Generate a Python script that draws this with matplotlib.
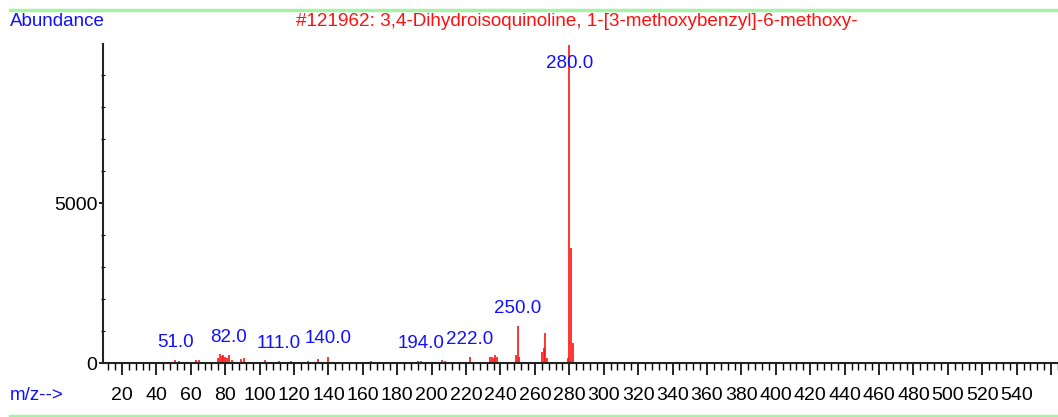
import matplotlib
matplotlib.use("Agg")
import matplotlib.pyplot as plt
from matplotlib.lines import Line2D
from matplotlib.ticker import MultipleLocator, FixedLocator

plt.rcParams['font.family'] = ['Liberation Sans', 'DejaVu Sans']

# Espectro de masas (m/z, abundancia)
mz = [41, 51, 53, 63, 65, 76, 77, 78, 79, 80, 81, 82, 84, 89, 91, 103,
      111, 118, 128, 134, 140, 152, 165, 177, 192, 194, 206, 208,
      222, 234, 235, 236, 237, 238, 249, 250, 251,
      264, 265, 266, 267, 279, 280, 281, 282]
abundancia = [40, 90, 50, 100, 80, 150, 280, 220, 250, 200, 150, 250, 100, 120, 170, 90,
              60, 70, 60, 120, 200, 40, 60, 40, 60, 70, 80, 50,
              190, 180, 200, 150, 250, 200, 250, 1150, 200,
              350, 470, 940, 150, 150, 9950, 3600, 620]

# Picos etiquetados
etiquetas = [51, 82, 111, 140, 194, 222, 250, 280]
altura_etiqueta = [90, 250, 60, 220, 60, 190, 1150, 9950]

titulo = "#121962: 3,4-Dihydroisoquinoline, 1-[3-methoxybenzyl]-6-methoxy-"
azul = "#1010ff"
rojo = "#ff1010"
verde = "#a6f2a6"

fig = plt.figure(figsize=(10.58, 4.17), dpi=100)
ax = fig.add_axes([103 / 1058, 54 / 417, 955 / 1058, 319 / 417])

ax.vlines(mz, 0, abundancia, color=rojo, linewidth=1.2)

for x, h in zip(etiquetas, altura_etiqueta):
    ax.text(x, min(h + 280, 9100), f"{x:.1f}", color=azul, fontsize=13.5,
            ha="center", va="bottom")

ax.set_xlim(9, 564)
ax.set_ylim(0, 9970)
ax.xaxis.set_major_locator(MultipleLocator(20))
ax.xaxis.set_minor_locator(MultipleLocator(4))
ax.yaxis.set_major_locator(FixedLocator([0, 5000]))
ax.yaxis.set_minor_locator(MultipleLocator(1000))

for s in ["top", "right"]:
    ax.spines[s].set_visible(False)
for s in ["left", "bottom"]:
    ax.spines[s].set_linewidth(1.5)
    ax.spines[s].set_color("#222222")

ax.tick_params(axis="x", which="major", direction="out", length=8.5, width=1.2,
               labelsize=14, pad=9)
ax.tick_params(axis="x", which="minor", direction="out", length=5, width=1.0)
ax.tick_params(axis="y", which="major", direction="out", length=3, width=1.2,
               labelsize=14, pad=1)
ax.tick_params(axis="y", which="minor", direction="inout", length=3, width=0.8)
ax.set_xticklabels([str(int(t)) if 20 <= t <= 540 else "" for t in ax.get_xticks()])

fig.text(10 / 1058, 1 - 21 / 417, "Abundance", color=azul, fontsize=13.5,
         ha="left", va="center")
fig.text(577 / 1058, 1 - 21 / 417, titulo, color=rojo, fontsize=13.6,
         ha="center", va="center")
fig.text(10 / 1058, 1 - 395 / 417, "m/z-->", color=azul, fontsize=13.5,
         ha="left", va="center")

fig.add_artist(Line2D([10 / 1058, 1], [1 - 10 / 417] * 2, color=verde, linewidth=2.5,
                      transform=fig.transFigure))
fig.add_artist(Line2D([10 / 1058, 1], [1 - 415.5 / 417] * 2, color=verde, linewidth=2.5,
                      transform=fig.transFigure))

fig.savefig("out.png", dpi=100)
